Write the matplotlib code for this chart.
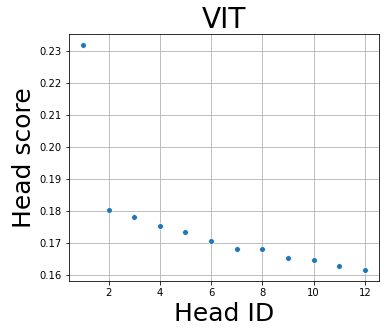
import numpy as np
import matplotlib.pyplot as plt

head_ids = [1, 2, 3, 4, 5, 6, 7, 8, 9, 10, 11, 12]
head_scores = [0.2320, 0.1804, 0.1782, 0.1754, 0.1735, 0.1707,
               0.1682, 0.1682, 0.1653, 0.1647, 0.1628, 0.1616]

fig = plt.figure(figsize=(387 / 72, 335 / 72), dpi=72)
ax = fig.add_axes([0.178, 0.161, 0.801, 0.738])

ax.scatter(head_ids, head_scores, s=32, color="#1f77b4",
           edgecolors="white", linewidths=0.6, zorder=3)

ax.set_title("VIT", fontsize=28)
ax.set_xlabel("Head ID", fontsize=25)
ax.set_ylabel("Head score", fontsize=25)
ax.set_xticks([2, 4, 6, 8, 10, 12])
ax.set_yticks(np.arange(0.16, 0.2301, 0.01))
ax.grid(True, color="#b0b0b0", lw=0.8)
ax.set_axisbelow(True)

fig.savefig("out.png", dpi=72)
